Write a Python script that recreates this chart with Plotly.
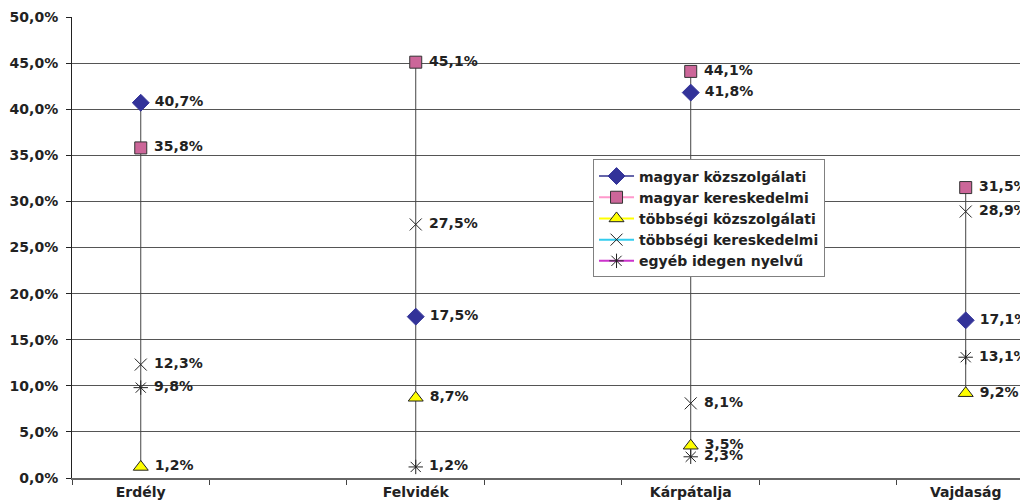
import plotly.graph_objects as go

categories = ["Erdély", "Felvidék", "Kárpátalja", "Vajdaság"]
magyar_kozszolgalati = [40.7, 17.5, 41.8, 17.1]
magyar_kereskedelmi = [35.8, 45.1, 44.1, 31.5]
tobbsegi_kozszolgalati = [1.2, 8.7, 3.5, 9.2]
tobbsegi_kereskedelmi = [12.3, 27.5, 8.1, 28.9]
egyeb_idegen = [9.8, 1.2, 2.3, 13.1]

y_ticks = [0, 5, 10, 15, 20, 25, 30, 35, 40, 45, 50]

FONT = "DejaVu Sans, Verdana, sans-serif"

series = [
    ("magyar közszolgálati", magyar_kozszolgalati, "diamond", "#333399", "#333399", 13, "#6666AA"),
    ("magyar kereskedelmi", magyar_kereskedelmi, "square", "#CC6699", "#333333", 12, "#FF99CC"),
    ("többségi közszolgálati", tobbsegi_kozszolgalati, "triangle-up", "#FFFF00", "#222222", 13, "#FFFF00"),
    ("többségi kereskedelmi", tobbsegi_kereskedelmi, "x-thin-open", "#222222", "#222222", 12, "#33CCEE"),
    ("egyéb idegen nyelvű", egyeb_idegen, "asterisk-open", "#222222", "#222222", 12, "#CC33CC"),
]

# 7 category slots: the data categories sit in every other slot
xpos = [i * 2 for i in range(len(categories))]

def fmt(v):
    return f"{v:.1f}%".replace(".", ",")

fig = go.Figure()

# high-low lines
hx, hy = [], []
for i, p in enumerate(xpos):
    vals = [s[1][i] for s in series]
    hx += [p, p, None]
    hy += [min(vals), max(vals), None]
fig.add_trace(go.Scatter(x=hx, y=hy, mode="lines", line=dict(color="#444444", width=1),
                         showlegend=False, hoverinfo="skip"))

for name, vals, sym, fill, border, size, lcol in series:
    fig.add_trace(go.Scatter(
        x=xpos, y=vals, mode="markers+text", showlegend=False,
        text=[" " + fmt(v) for v in vals], textposition="middle right",
        textfont=dict(family=FONT, size=14, color="#222222", weight="bold"),
        marker=dict(symbol=sym, size=size, color=fill,
                    line=dict(color=border, width=1)),
        cliponaxis=False,
    ))
    # legend-only entry with the series line colour
    fig.add_trace(go.Scatter(
        x=[None], y=[None], mode="lines+markers", name=name,
        line=dict(color=lcol, width=2),
        marker=dict(symbol=sym, size=size, color=fill, line=dict(color=border, width=1)),
    ))

# the page body adds an 8px offset; compensate in the figure size/margins
fig.update_layout(
    width=1020, height=495,
    margin=dict(l=64, r=0, t=9, b=25),
    plot_bgcolor="white", paper_bgcolor="white",
    font=dict(family=FONT, size=14, color="#222222"),
    legend=dict(
        x=0.545, y=0.691, xanchor="left", yanchor="top",
        bgcolor="white", bordercolor="#808080", borderwidth=1,
        font=dict(family=FONT, size=14, color="#222222", weight="bold"),
        itemwidth=35, tracegroupgap=0,
    ),
    xaxis=dict(
        range=[-0.5, 6.453], showgrid=False, zeroline=False, automargin=False,
        tickvals=xpos, ticktext=categories, ticks="",
        tickfont=dict(family=FONT, size=14, weight="bold"),
        showline=True, linecolor="#666666", linewidth=2,
        minor=dict(tickvals=[k + 0.5 for k in range(-1, 7)], ticks="outside",
                   ticklen=5, tickcolor="#444444", showgrid=False),
    ),
    yaxis=dict(
        range=[0, 50], tickvals=y_ticks, automargin=False,
        ticktext=[f"{t:.1f}%".replace(".", ",") for t in y_ticks],
        showgrid=True, gridcolor="#555555", gridwidth=1, zeroline=False,
        showline=True, linecolor="#222222", linewidth=1,
        ticks="outside", ticklen=5, tickcolor="#222222",
        tickfont=dict(family=FONT, size=14, weight="bold"),
        ticklabelstandoff=5,
    ),
)

fig.write_html("out.html")
